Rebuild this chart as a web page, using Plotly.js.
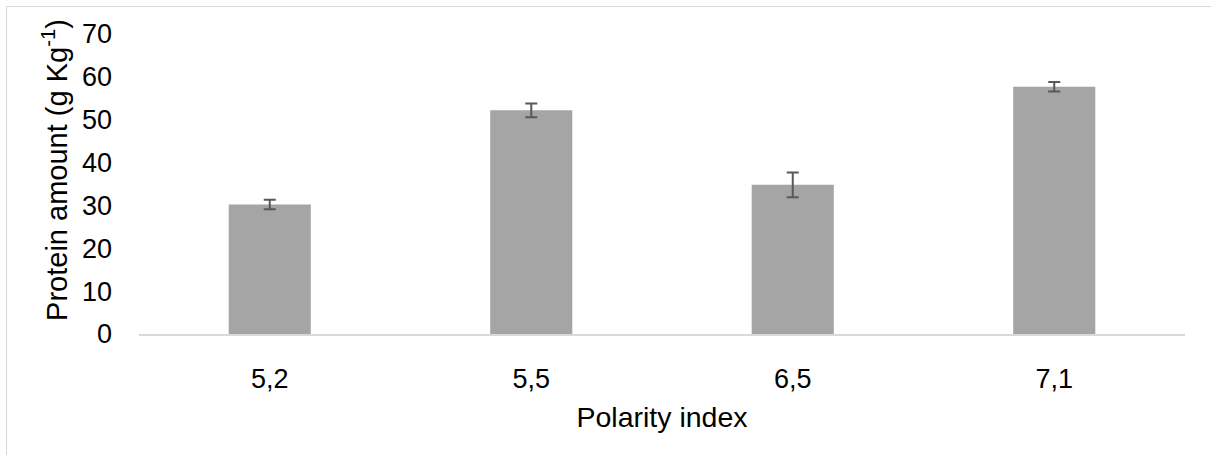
<!DOCTYPE html>
<html>
<head>
<meta charset="utf-8">
<script src="https://cdn.plot.ly/plotly-3.0.1.min.js"></script>
<style>
  html, body { margin: 0; padding: 0; background: #fff; }
  #wrap { position: relative; width: 1211px; height: 455px; overflow: hidden; }
  #frame { position: absolute; left: 6px; top: 6px; width: 1240px; height: 480px; border: 1px solid #d9d9d9; box-sizing: border-box; pointer-events: none; }
  #chart { position: absolute; left: 0; top: 0; width: 1211px; height: 455px; }
</style>
</head>
<body>
<div id="wrap">
  <div id="chart"></div>
  <div id="frame"></div>
</div>
<script>
const categories = ["5,2", "5,5", "6,5", "7,1"];
const proteinValues = [30.2, 52.2, 34.8, 57.7];
const errorValues = [1.1, 1.6, 2.9, 1.1];
const yTickValues = [0, 10, 20, 30, 40, 50, 60, 70];
const xTitle = "Polarity index";
const yTitle = "Protein amount (g Kg<sup>-1</sup>)";

const trace = {
  type: "bar",
  x: categories,
  y: proteinValues,
  marker: { color: "#a5a5a5" },
  error_y: { type: "data", array: errorValues, visible: true, color: "#595959", thickness: 2, width: 6 },
  hoverinfo: "none"
};

const fam = "Liberation Sans, Arial, sans-serif";

const layout = {
  width: 1211, height: 455,
  margin: { l: 139, r: 26, t: 34, b: 121 },
  paper_bgcolor: "rgba(0,0,0,0)",
  plot_bgcolor: "rgba(0,0,0,0)",
  showlegend: false,
  bargap: 0.686,
  font: { family: fam, color: "#000" },
  xaxis: {
    type: "category",
    showline: true, linecolor: "#d9d9d9", linewidth: 2,
    showgrid: false, zeroline: false,
    ticks: "", ticklabelstandoff: 20,
    tickfont: { family: fam, size: 27, color: "#000" },
    title: { text: xTitle, font: { family: fam, size: 28.5, color: "#000" }, standoff: 14 },
    automargin: false
  },
  yaxis: {
    range: [0, 70],
    tickvals: yTickValues,
    ticktext: yTickValues.map(String),
    showline: false, showgrid: false, zeroline: false,
    ticks: "", ticklabelstandoff: 26,
    tickfont: { family: fam, size: 27, color: "#000" },
    automargin: false
  },
  annotations: [{
    text: yTitle,
    xref: "paper", yref: "paper",
    x: -0.0803, y: 0.547,
    xanchor: "center", yanchor: "middle",
    textangle: -90,
    showarrow: false,
    font: { family: fam, size: 29, color: "#000" }
  }]
};

Plotly.newPlot("chart", [trace], layout, { displayModeBar: false, staticPlot: true });
</script>
</body>
</html>
